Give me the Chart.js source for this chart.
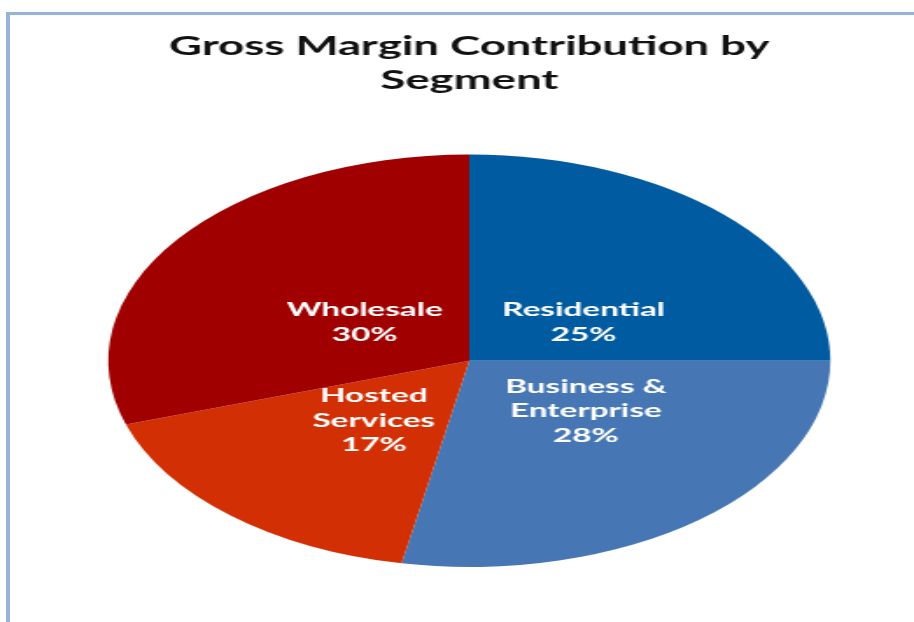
<!DOCTYPE html>
<html>
<head>
<meta charset="utf-8">
<script src="https://cdn.jsdelivr.net/npm/chart.js@4.4.1/dist/chart.umd.min.js"></script>
<style>
  html, body { margin: 0; padding: 0; background: #fff; }
  #wrap { position: relative; width: 914px; height: 622px; overflow: hidden; }
  #frame { position: absolute; left: 6px; top: 12px; right: -10px; bottom: -10px;
           border-top: 3px solid #98b3d8; border-left: 4px solid #98b3d8; }
  #grafico { position: absolute; left: 0; top: 0; width: 914px; height: 622px; }
</style>
</head>
<body>
<div id="wrap">
  <div id="frame"></div>
  <canvas id="grafico" width="522" height="622" style="width:914px;height:622px"></canvas>
</div>
<script>
const segmentos = [['Residential'], ['Business &', 'Enterprise'], ['Hosted', 'Services'], ['Wholesale']];
const porcentajes = [25, 28, 17, 30];
const colores = ['#005ba1', '#4677b4', '#d32f04', '#a00000'];
// ajuste de la etiqueta respecto al punto medio de la porcion (px sin estirar)
const ajusteEtiqueta = [[7, 20], [14, -13], [0, -2], [7, 10]];

// etiquetas blancas dentro de cada porcion
const etiquetasPie = {
    id: 'etiquetasPie',
    afterDatasetsDraw(chart) {
        const ctx = chart.ctx;
        const arcs = chart.getDatasetMeta(0).data;
        ctx.save();
        ctx.fillStyle = '#ffffff';
        ctx.font = 'bold 19px Lato';
        ctx.textAlign = 'center';
        ctx.textBaseline = 'middle';
        arcs.forEach((arc, i) => {
            const p = arc.getProps(['x', 'y', 'startAngle', 'endAngle', 'outerRadius'], true);
            const mid = (p.startAngle + p.endAngle) / 2;
            const r = p.outerRadius * 0.4;
            const cx = p.x + Math.cos(mid) * r + ajusteEtiqueta[i][0];
            const cy = p.y + Math.sin(mid) * r + ajusteEtiqueta[i][1];
            const lineas = segmentos[i].concat([porcentajes[i] + '%']);
            const alto = 24.5;
            const y0 = cy - (lineas.length - 1) * alto / 2;
            lineas.forEach((t, j) => ctx.fillText(t, cx, y0 + j * alto));
        });
        ctx.restore();
    }
};

const ctx = document.getElementById('grafico').getContext('2d');
new Chart(ctx, {
    type: 'pie',
    data: {
        labels: segmentos,
        datasets: [{
            data: porcentajes,
            backgroundColor: colores,
            borderWidth: 0
        }]
    },
    options: {
        responsive: false,
        animation: false,
        layout: { padding: { left: 14, right: 0, top: 0, bottom: 55 } },
        plugins: {
            legend: { display: false },
            tooltip: { enabled: false },
            title: {
                display: true,
                text: ['Gross Margin Contribution by', 'Segment'],
                color: '#111111',
                font: { family: 'Lato', size: 26, weight: 'bold', lineHeight: 1.3 },
                padding: { top: 30, bottom: 57 }
            }
        }
    },
    plugins: [etiquetasPie]
});
</script>
</body>
</html>
